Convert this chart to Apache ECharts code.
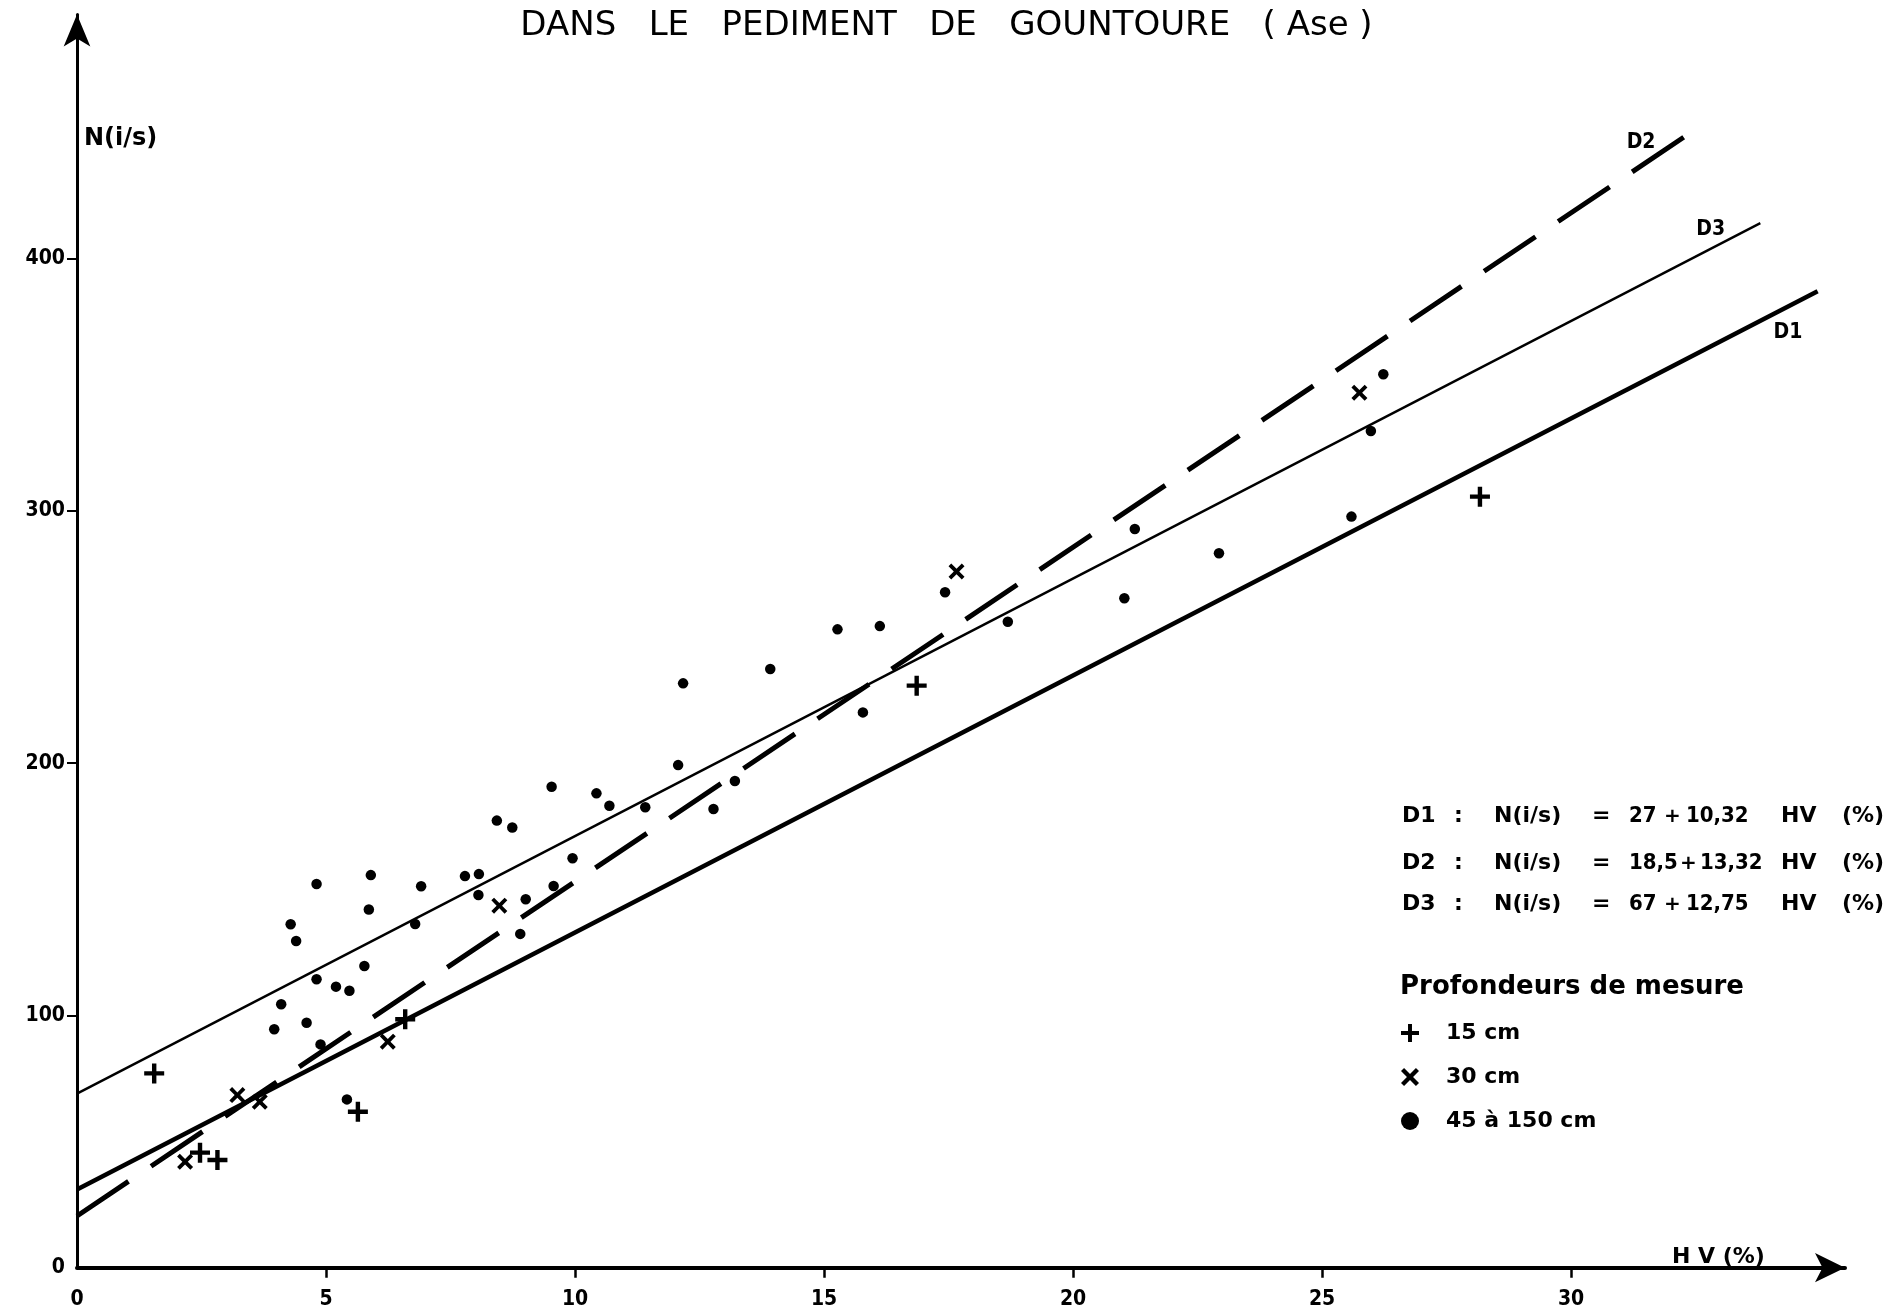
<!DOCTYPE html>
<html>
<head>
<meta charset="utf-8">
<script src="https://cdn.jsdelivr.net/npm/echarts@6/dist/echarts.min.js"></script>
<style>html,body{margin:0;padding:0;background:#fff;}#c{width:1893px;height:1312px;}</style>
</head>
<body>
<div id="c"></div>
<script>
// ---- data ----
const titleText = 'DANS   LE   PEDIMENT   DE   GOUNTOURE   ( Ase )';
const xTickLabels = [0, 5, 10, 15, 20, 25, 30];
const yTickLabels = [0, 100, 200, 300, 400];

// regression lines (end points)
const lineD1 = [[0, 31], [34.95, 387]];
const lineD2 = [[0, 20.5], [32.28, 448.3]];
const lineD3 = [[0, 69], [33.8, 414]];

// 15 cm (+)
const pts15 = [
  [1.55, 77], [2.47, 45.6], [2.82, 42.7], [5.64, 61.8], [6.59, 98.5],
  [16.86, 230.7], [28.17, 305.6]
];
// 30 cm (x)
const pts30 = [
  [2.17, 42], [3.22, 68.4], [3.67, 65.8], [6.24, 89.6], [8.48, 143.5],
  [17.66, 275.9], [25.75, 346.8]
];
// 45 a 150 cm (dots)
const pts45 = [
  [4.81, 152.1], [5.90, 155.6], [6.91, 151.2], [7.79, 155.2], [8.07, 156.0],
  [5.86, 142.0], [8.06, 147.7], [6.79, 136.2], [9.01, 146.0], [9.57, 151.3],
  [9.95, 162.3], [4.29, 136.1], [4.40, 129.5], [5.77, 119.6], [4.81, 114.3],
  [5.20, 111.4], [5.47, 109.8], [4.10, 104.4], [3.96, 94.5], [4.61, 97.1],
  [4.89, 88.5], [8.90, 132.3], [5.42, 66.7], [12.17, 231.6], [12.07, 199.2],
  [9.53, 190.6], [10.43, 188.0], [10.69, 183.1], [11.41, 182.5], [8.43, 177.2],
  [8.74, 174.5], [13.21, 192.9], [12.78, 181.8], [17.43, 267.7], [15.27, 253.0],
  [16.12, 254.3], [13.92, 237.3], [18.69, 256.0], [15.78, 220.1], [26.23, 354.1],
  [25.98, 331.6], [25.59, 297.7], [21.24, 292.8], [22.93, 283.2], [21.03, 265.3]
];
const seriesNames = ['15 cm', '30 cm', '45 à 150 cm'];
const eqRows = [
  ['D1', ':', 'N(i/s)', '=', '27', '+', '10,32', 'HV', '(%)'],
  ['D2', ':', 'N(i/s)', '=', '18,5', '+', '13,32', 'HV', '(%)'],
  ['D3', ':', 'N(i/s)', '=', '67', '+', '12,75', 'HV', '(%)']
];
const legendTitle = 'Profondeurs de mesure';
const yName = 'N(i/s)';
const xName = 'H V (%)';

// ---- styling / layout ----
const INK = '#000000';
const FONT = '"DejaVu Sans", sans-serif';
const FONTC = '"DejaVu Sans Condensed", "DejaVu Sans", sans-serif';
const plusPath = 'path://M3.9,0 H6.1 V3.9 H10 V6.1 H6.1 V10 H3.9 V6.1 H0 V3.9 H3.9 Z';
const crossPath = 'path://M1.7,0 L5,3.3 L8.3,0 L10,1.7 L6.7,5 L10,8.3 L8.3,10 L5,6.7 L1.7,10 L0,8.3 L3.3,5 L0,1.7 Z';

const eqColX = [
  [1402, 1454, 1494, 1592, 1629, 1664, 1686, 1781, 1842],
  [1402, 1454, 1494, 1592, 1629, 1680, 1700, 1781, 1842],
  [1402, 1454, 1494, 1592, 1629, 1664, 1686, 1781, 1842]
];
const eqY = [818, 865, 906];
const graphics = [];
eqRows.forEach((row, r) => {
  row.forEach((t, c) => {
    const isNum = (c === 4 || c === 6);
    const isPlus = (c === 5);
    const fam = isNum ? FONTC : FONT;
    const size = isPlus ? 20 : 22;
    graphics.push({type: 'text', left: eqColX[r][c], top: eqY[r] - (isPlus ? 11 : 13),
      style: {text: t, fill: INK, font: 'bold ' + size + 'px ' + fam}});
  });
});
graphics.push({type: 'text', left: 1400, top: 974,
  style: {text: legendTitle, fill: INK, font: 'bold 26px ' + FONT}});
graphics.push({type: 'text', left: 84, top: 127,
  style: {text: yName, fill: INK, font: 'bold 24px ' + FONT}});
graphics.push({type: 'text', left: 1672, top: 1246,
  style: {text: xName, fill: INK, font: 'bold 22px ' + FONT}});

const endLbl = (name, off) => ({show: true, formatter: name, offset: off, color: INK,
  fontFamily: FONTC, fontWeight: 'bold', fontSize: 21});

const chart = echarts.init(document.getElementById('c'), null, {renderer: 'canvas'});
chart.setOption({
  backgroundColor: '#ffffff',
  animation: false,
  title: {
    text: titleText, left: 'center', top: 4,
    textStyle: {color: INK, fontFamily: FONT, fontWeight: 'normal', fontSize: 34}
  },
  grid: {left: 77, right: 48, top: 14.5, bottom: 44.3, containLabel: false},
  xAxis: {
    type: 'value', min: 0, max: 35.5, interval: 5,
    splitLine: {show: false},
    axisLine: {onZero: false, lineStyle: {color: INK, width: 4}, symbol: ['none', 'arrow'], symbolSize: [22, 30]},
    axisTick: {show: true, length: 10, lineStyle: {color: INK, width: 2.5}, customValues: [5, 10, 15, 20, 25, 30]},
    axisLabel: {color: INK, fontFamily: FONTC, fontWeight: 'bold', fontSize: 21, margin: 21, customValues: xTickLabels}
  },
  yAxis: {
    type: 'value', min: 0, max: 496.7, interval: 100,
    splitLine: {show: false},
    axisLine: {onZero: false, lineStyle: {color: INK, width: 3}, symbol: ['none', 'arrow'], symbolSize: [20, 32]},
    axisTick: {show: true, length: 10, lineStyle: {color: INK, width: 2}, customValues: [100, 200, 300, 400]},
    axisLabel: {color: INK, fontFamily: FONTC, fontWeight: 'bold', fontSize: 21, margin: 12, customValues: yTickLabels}
  },
  legend: {
    orient: 'vertical', left: 1396, top: 1017, itemGap: 22, itemWidth: 18, itemHeight: 18,
    data: [
      {name: seriesNames[0], icon: plusPath},
      {name: seriesNames[1], icon: crossPath},
      {name: seriesNames[2], icon: 'circle'}
    ],
    textStyle: {color: INK, fontFamily: FONT, fontWeight: 'bold', fontSize: 22, padding: [0, 0, 0, 22]},
    selectedMode: false
  },
  graphic: graphics,
  series: [
    {type: 'line', name: 'D1', data: lineD1, symbol: 'none', showSymbol: false,
     lineStyle: {color: INK, width: 4.5}, z: 2, silent: true, endLabel: endLbl('D1', [-52, 41])},
    {type: 'line', name: 'D2', data: lineD2, symbol: 'none', showSymbol: false,
     lineStyle: {color: INK, width: 5, type: [62, 27.2]}, z: 2, silent: true, endLabel: endLbl('D2', [-66, 6])},
    {type: 'line', name: 'D3', data: lineD3, symbol: 'none', showSymbol: false,
     lineStyle: {color: INK, width: 2.4}, z: 2, silent: true, endLabel: endLbl('D3', [-72, 6])},
    {type: 'scatter', name: seriesNames[0], data: pts15, symbol: plusPath, symbolSize: 20,
     itemStyle: {color: INK, opacity: 1}, z: 3},
    {type: 'scatter', name: seriesNames[1], data: pts30, symbol: crossPath, symbolSize: 16,
     itemStyle: {color: INK, opacity: 1}, z: 3},
    {type: 'scatter', name: seriesNames[2], data: pts45, symbol: 'circle', symbolSize: 10.5,
     itemStyle: {color: INK, opacity: 1}, z: 3}
  ]
});
</script>
</body>
</html>
